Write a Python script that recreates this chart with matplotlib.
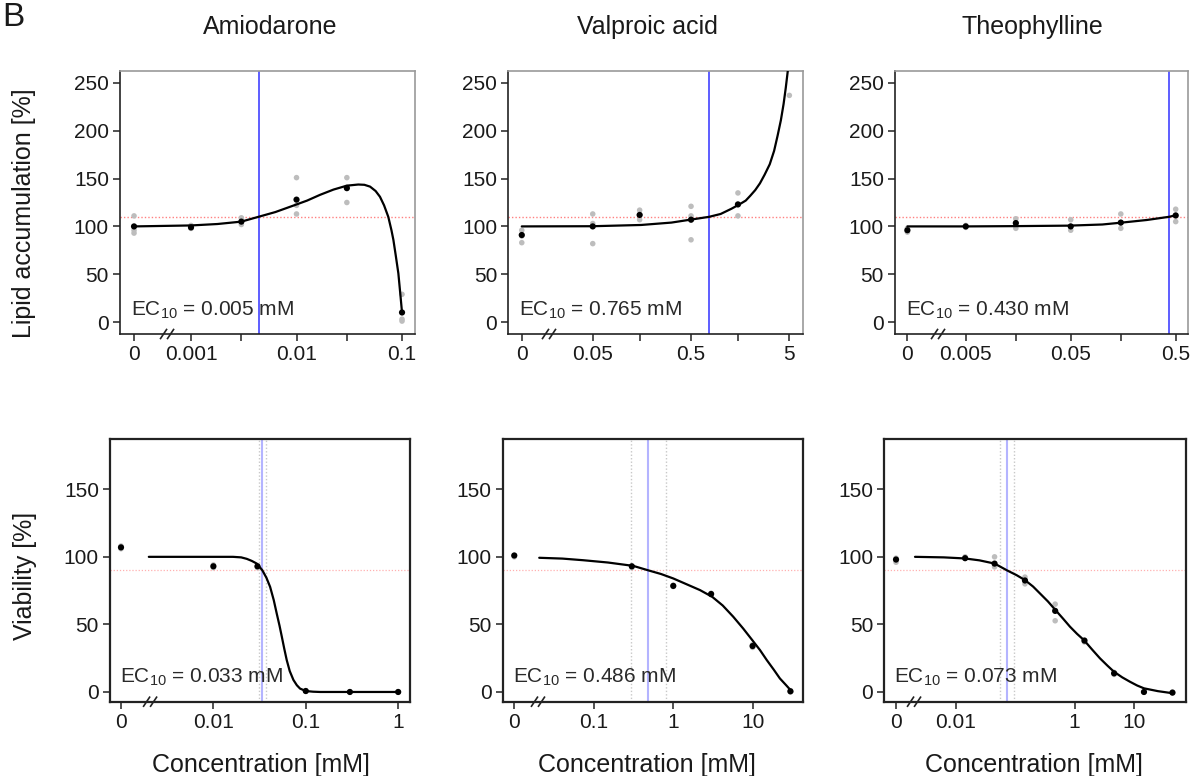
import numpy as np
import matplotlib
matplotlib.use("Agg")
import matplotlib.pyplot as plt

plt.rcParams['font.family'] = ['Liberation Sans', 'DejaVu Sans']
plt.rcParams['mathtext.fontset'] = 'custom'
plt.rcParams['mathtext.rm'] = 'Liberation Sans'
plt.rcParams['mathtext.it'] = 'Liberation Sans'
plt.rcParams['mathtext.bf'] = 'Liberation Sans'

drugs = ['Amiodarone', 'Valproic acid', 'Theophylline']

# ---- lipid accumulation (top row) ----
lip_conc = [
    [0, 0.001, 0.003, 0.01, 0.03, 0.1],
    [0, 0.05, 0.15, 0.5, 1.5, 5],
    [0, 0.005, 0.015, 0.05, 0.15, 0.5],
]
lip_mean = [
    [100, 99, 105, 128, 140, 10],
    [91, 100, 112, 107, 123, np.nan],
    [96, 100, 103.5, 100, 104, 111.5],
]
lip_reps = [
    [[111, 96, 93], [101, 98, 98], [109, 104, 102], [151, 122, 113], [151, 141, 125], [29, 3, 1]],
    [[96, 83, 90], [113, 103, 82], [117, 112, 107], [121, 111, 86], [135, 123, 111], [237]],
    [[98, 95, 94], [101, 99, 100], [108, 103, 98], [107, 100, 96], [113, 104, 98], [118, 111, 105]],
]
# fitted curves
lip_curve_c = [
    [0, 0.001, 0.00178, 0.003, 0.00435, 0.0063, 0.0093, 0.0126, 0.0167, 0.0224, 0.03, 0.0385,
     0.044, 0.0498, 0.0562, 0.0618, 0.0676, 0.0741, 0.0794, 0.0828, 0.0871, 0.0923, 0.0966, 0.1],
    [0, 0.05, 0.155, 0.316, 0.489, 0.762, 1.0, 1.29, 1.55, 1.8, 2.0, 2.25, 2.51, 2.8, 3.16,
     3.5, 3.8, 4.1, 4.37, 4.6, 4.82, 5.1],
    [0, 0.005, 0.015, 0.048, 0.1, 0.154, 0.265, 0.43, 0.5],
]
lip_curve_v = [
    [100, 101, 102.5, 105, 110, 115, 121.7, 127, 133, 138.5, 142.6, 143.8,
     143.5, 141.6, 137, 131, 122, 110, 96, 86, 70, 51, 28, 10],
    [100, 100.2, 101.5, 104, 107, 110, 113, 118.5, 123, 127, 132, 138, 145, 154, 165,
     179, 195, 211, 228, 245, 262.5, 290],
    [100, 100, 100.3, 100.8, 102, 104, 106.7, 110, 111.6],
]
lip_ec10 = [0.0044, 0.765, 0.43]
lip_ec10_txt = ['0.005', '0.765', '0.430']
lip_ticks = [
    [0, 0.001, 0.003, 0.01, 0.03, 0.1],
    [0, 0.05, 0.15, 0.5, 1.5, 5],
    [0, 0.005, 0.015, 0.05, 0.15, 0.5],
]
lip_ticklabels = [
    ['0', '0.001', '', '0.01', '', '0.1'],
    ['0', '0.05', '', '0.5', '', '5'],
    ['0', '0.005', '', '0.05', '', '0.5'],
]

# ---- viability (bottom row) ----
via_conc = [
    [0, 0.01, 0.03, 0.1, 0.3, 1],
    [0, 0.3, 1, 3, 10, 30],
    [0, 0.0144, 0.045, 0.146, 0.47, 1.46, 4.6, 14.6, 44],
]
via_mean = [
    [107, 93, 93, 0.7, 0, 0],
    [101, 93, 78.5, 72.5, 34, 0.5],
    [98, 99, 95, 82.5, 60, 38, 13.8, 0, -0.5],
]
via_reps = [
    [[106, 108], [92, 94], [93, 92], [1, 0.5], [0, 0], [0, 0]],
    [[101, 100], [93, 92], [78, 79], [72, 73], [33, 35], [0, 1]],
    [[96, 99], [99, 100], [100, 92.6], [85, 80], [65, 52.7], [38.4, 37], [14.5, 13], [0, 0], [0, -0.5]],
]
via_curve_c = [
    [0.002, 0.0163, 0.02, 0.023, 0.026, 0.0295, 0.0339, 0.0375, 0.0411, 0.045, 0.0485, 0.052,
     0.055, 0.0585, 0.0622, 0.067, 0.0735, 0.08, 0.0867, 0.1, 0.12, 0.143, 1.0],
    [0.0204, 0.04, 0.073, 0.15, 0.313, 0.484, 0.7, 1.0, 1.5, 2.17, 3.1, 4.2, 5.7, 7.6, 9.9,
     12.4, 15.1, 18.5, 22.1, 26.5, 31.6],
    [0.00207, 0.0063, 0.0143, 0.0251, 0.0452, 0.0728, 0.105, 0.146, 0.2, 0.261, 0.355, 0.467,
     0.631, 0.834, 1.096, 1.43, 2.0, 2.66, 3.55, 4.57, 6.31, 8.47, 11.2, 14.6, 25.1, 45.4],
]
via_curve_v = [
    [100, 100, 99.6, 98.5, 97, 95, 90, 84.5, 77.8, 68, 58, 49,
     41, 32, 23.6, 15.5, 8.9, 5, 2.5, 0.7, 0.2, 0, 0],
    [99.3, 98.7, 97.5, 95.8, 93.3, 90, 87.3, 84, 79.5, 75.4, 70.4, 64, 55.7, 47, 38.4,
     31, 23.6, 16.5, 10, 5, 0],
    [100, 99.6, 98.8, 97.4, 95, 90, 86.5, 82.8, 78, 72.9, 67, 61,
     54.5, 48.3, 43, 38.4, 31, 24.9, 19.5, 15, 10.8, 7.6, 4.8, 2.7, 0.6, -1],
]
via_ec10 = [0.0339, 0.486, 0.073]
via_ci = [[0.031, 0.037], [0.29, 0.82], [0.056, 0.094]]
via_ec10_txt = ['0.033', '0.486', '0.073']
via_ticks = [[0, 0.01, 0.1, 1], [0, 0.1, 1, 10], [0, 0.01, 1, 10]]
via_ticklabels = [['0', '0.01', '0.1', '1'], ['0', '0.1', '1', '10'], ['0', '0.01', '1', '10']]

# layout (log10 units for x)
lip_zero = [-3.54, -2.023, -2.857]
lip_xlim = [(-3.673, -0.877), (-2.160, 0.841), (-2.975, -0.181)]
lip_brk = [-3.227, -1.746, -2.565]
via_zero = [-3.0, -2.005, -3.003]
via_xlim = [(-3.119, 0.128), (-2.151, 1.632), (-3.2, 1.866)]
via_brk = [-2.685, -1.706, -2.70]

W, H = 1193, 776
top_boxes = [(120, 71, 415, 334), (508.3, 71, 803.3, 334), (895, 71, 1188.3, 334)]
bot_boxes = [(110, 439, 410, 701.7), (502.7, 439, 802.7, 701.7), (884.3, 439, 1185.7, 701.7)]

TXT = '#1a1a1a'


def xpos(c, zero):
    c = np.asarray(c, dtype=float)
    out = np.full(c.shape, zero)
    m = c > 0
    out[m] = np.log10(c[m])
    return out


def make_ax(fig, box):
    l, t, r, b = box
    return fig.add_axes([l / W, 1 - b / H, (r - l) / W, (b - t) / H])


def add_break(ax, bx, box):
    l, t, r, b = box
    w, h = r - l, b - t
    x0, x1 = ax.get_xlim()
    fx = (bx - x0) / (x1 - x0)
    for off in (-3.5, 3.5):
        cx = fx + off / w
        ax.plot([cx - 3 / w, cx + 3 / w], [-4.5 / h, 4.5 / h], transform=ax.transAxes,
                color='#222222', lw=1.2, clip_on=False, zorder=6)


def draw_points(ax, conc, mean, reps, zero):
    for c, rr in zip(conc, reps):
        xs = xpos([c] * len(rr), zero)
        ax.scatter(xs, rr, s=16, color='#bdbdbd', edgecolors='none', zorder=3)
    ax.scatter(xpos(conc, zero), mean, s=20, color='black', edgecolors='none', zorder=5)


fig = plt.figure(figsize=(W / 100, H / 100), dpi=100)

for i in range(3):
    # top row
    box = top_boxes[i]
    ax = make_ax(fig, box)
    z = lip_zero[i]
    ax.set_xlim(*lip_xlim[i])
    ax.set_ylim(-12.5, 262.5)
    ax.axhline(110, color='#ff8080', lw=1.0, ls=(0, (1, 1.5)), zorder=1)
    ax.axvline(np.log10(lip_ec10[i]), color='#5050ff', lw=1.3, zorder=2)
    ax.plot(xpos(lip_curve_c[i], z), lip_curve_v[i], color='black', lw=1.6, zorder=4,
            solid_capstyle='round', solid_joinstyle='round')
    draw_points(ax, lip_conc[i], lip_mean[i], lip_reps[i], z)
    ax.set_xticks(xpos(lip_ticks[i], z))
    ax.set_xticklabels(lip_ticklabels[i])
    ax.set_yticks([0, 50, 100, 150, 200, 250])
    for s in ['top', 'right']:
        ax.spines[s].set_color('#9a9a9a')
        ax.spines[s].set_linewidth(1.2)
    for s in ['left', 'bottom']:
        ax.spines[s].set_color('#222222')
        ax.spines[s].set_linewidth(1.2)
    ax.tick_params(length=5, width=1.1, color='#222222', labelsize=15, labelcolor=TXT, pad=3)
    ax.text(11 / (box[2] - box[0]), 18.5 / (box[3] - box[1]),
            r'EC$_{\mathrm{10}}$ = ' + lip_ec10_txt[i] + ' mM', transform=ax.transAxes,
            fontsize=15, color='#2a2a2a', va='baseline', ha='left', zorder=7)
    add_break(ax, lip_brk[i], box)

    # bottom row
    box = bot_boxes[i]
    ax = make_ax(fig, box)
    z = via_zero[i]
    ax.set_xlim(*via_xlim[i])
    ax.set_ylim(-7.2, 187.2)
    ax.axhline(90, color='#ffb0b0', lw=0.9, ls=(0, (1, 1.5)), zorder=1)
    for c in via_ci[i]:
        ax.axvline(np.log10(c), color='#c8c8c8', lw=1.0, ls=(0, (1, 1.5)), zorder=1)
    ax.axvline(np.log10(via_ec10[i]), color='#b4b4ff', lw=1.5, zorder=2)
    ax.plot(xpos(via_curve_c[i], z), via_curve_v[i], color='black', lw=1.6, zorder=4,
            solid_capstyle='round', solid_joinstyle='round')
    draw_points(ax, via_conc[i], via_mean[i], via_reps[i], z)
    ax.set_xticks(xpos(via_ticks[i], z))
    ax.set_xticklabels(via_ticklabels[i])
    ax.set_yticks([0, 50, 100, 150])
    for s in ax.spines.values():
        s.set_color('#222222')
        s.set_linewidth(1.6)
    ax.tick_params(length=5, width=1.1, color='#222222', labelsize=15, labelcolor=TXT, pad=3)
    ax.text(10 / (box[2] - box[0]), 19 / (box[3] - box[1]),
            r'EC$_{\mathrm{10}}$ = ' + via_ec10_txt[i] + ' mM', transform=ax.transAxes,
            fontsize=15, color='#2a2a2a', va='baseline', ha='left', zorder=7)
    add_break(ax, via_brk[i], box)

# titles and axis labels
title_x = [270, 647.5, 1032.5]
for name, tx in zip(drugs, title_x):
    fig.text(tx / W, 1 - 34 / H, name, ha='center', va='baseline', fontsize=18, color=TXT)

xlab_x = [261, 646.7, 1034]
for lx in xlab_x:
    fig.text(lx / W, 1 - 772 / H, 'Concentration [mM]', ha='center', va='baseline',
             fontsize=18, color=TXT)

fig.text(24 / W, 1 - 213.5 / H, 'Lipid accumulation [%]', rotation=90, ha='center',
         va='center', fontsize=18, color=TXT)
fig.text(25 / W, 1 - 575.8 / H, 'Viability [%]', rotation=90, ha='center',
         va='center', fontsize=18, color=TXT)

# panel letter
fig.text(2 / W, 1 - 26 / H, 'B', ha='left', va='baseline', fontsize=24, color=TXT)

fig.savefig('out.png', dpi=100)
